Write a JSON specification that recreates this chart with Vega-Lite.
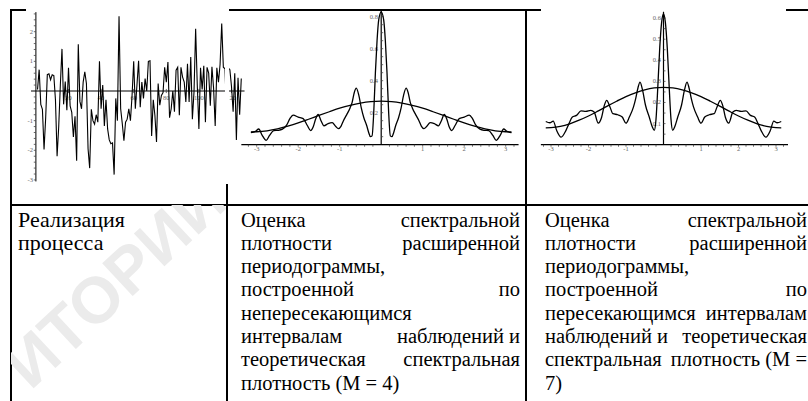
{
 "$schema": "https://vega.github.io/schema/vega-lite/v6.json",
 "padding": {"left": 10, "top": 8, "right": 0, "bottom": 0},
 "background": "white",
 "bounds": "flush",
 "spacing": 0,
 "columns": 3,
 "config": {"view": {"stroke": "#000", "strokeWidth": 2}},
 "datasets": {
  "c1": [{"x":1,"y":0.05},{"x":2,"y":0.72},{"x":3,"y":-0.45},{"x":4,"y":-0.62},{"x":5,"y":-1.97},{"x":6,"y":-0.9},{"x":7,"y":0.55},{"x":8,"y":0.58},{"x":9,"y":0.38},{"x":10,"y":0.55},{"x":11,"y":0.52},{"x":12,"y":-0.3},{"x":13,"y":-2.2},{"x":14,"y":-1.2},{"x":15,"y":0.2},{"x":16,"y":1.42},{"x":17,"y":-0.45},{"x":18,"y":0.32},{"x":19,"y":-0.65},{"x":20,"y":0.78},{"x":21,"y":-0.5},{"x":22,"y":-0.72},{"x":23,"y":-1.55},{"x":24,"y":-0.85},{"x":25,"y":-2.35},{"x":26,"y":1.58},{"x":27,"y":-0.35},{"x":28,"y":-0.6},{"x":29,"y":0.3},{"x":30,"y":0.65},{"x":31,"y":0.25},{"x":32,"y":-1.95},{"x":33,"y":-2.6},{"x":34,"y":-0.62},{"x":35,"y":-1.0},{"x":36,"y":-1.12},{"x":37,"y":-0.8},{"x":38,"y":-1.05},{"x":39,"y":1.0},{"x":40,"y":-0.6},{"x":41,"y":0.2},{"x":42,"y":-1.18},{"x":43,"y":-0.3},{"x":44,"y":-1.28},{"x":45,"y":-1.65},{"x":46,"y":-1.78},{"x":47,"y":-1.75},{"x":48,"y":-2.82},{"x":49,"y":-0.25},{"x":50,"y":-1.0},{"x":51,"y":2.52},{"x":52,"y":-0.6},{"x":53,"y":-1.1},{"x":54,"y":-1.68},{"x":55,"y":-1.05},{"x":56,"y":-0.95},{"x":57,"y":-0.6},{"x":58,"y":-1.0},{"x":59,"y":-0.15},{"x":60,"y":1.0},{"x":61,"y":-0.6},{"x":62,"y":0.2},{"x":63,"y":1.02},{"x":64,"y":-0.55},{"x":65,"y":0.3},{"x":66,"y":-0.25},{"x":67,"y":0.42},{"x":68,"y":0.0},{"x":69,"y":1.0},{"x":70,"y":1.02},{"x":71,"y":-1.52},{"x":72,"y":-0.3},{"x":73,"y":-0.82},{"x":74,"y":-1.72},{"x":75,"y":0.25},{"x":76,"y":-0.48},{"x":77,"y":-0.15},{"x":78,"y":-0.05},{"x":79,"y":0.8},{"x":80,"y":0.3},{"x":81,"y":0.98},{"x":82,"y":-0.9},{"x":83,"y":-0.6},{"x":84,"y":0.0},{"x":85,"y":-0.7},{"x":86,"y":0.7},{"x":87,"y":0.8},{"x":88,"y":-0.82},{"x":89,"y":0.8},{"x":90,"y":0.47},{"x":91,"y":0.3},{"x":92,"y":-0.37},{"x":93,"y":0.92},{"x":94,"y":-0.37},{"x":95,"y":1.15},{"x":96,"y":-0.95},{"x":97,"y":-0.03},{"x":98,"y":2.1},{"x":99,"y":0.2},{"x":100,"y":-1.28},{"x":101,"y":0.78},{"x":102,"y":0.05},{"x":103,"y":0.85},{"x":104,"y":-1.05},{"x":105,"y":0.8},{"x":106,"y":0.6},{"x":107,"y":-0.5},{"x":108,"y":0.82},{"x":109,"y":0.1},{"x":110,"y":-1.18},{"x":111,"y":0.78},{"x":112,"y":0.3},{"x":113,"y":0.9},{"x":114,"y":2.28},{"x":115,"y":0.8},{"x":116,"y":0.75},{"x":117,"y":-0.78},{"x":118,"y":0.78},{"x":119,"y":0.72},{"x":120,"y":0.15},{"x":121,"y":-0.7},{"x":122,"y":0.6},{"x":123,"y":-1.65},{"x":124,"y":0.45},{"x":125,"y":-0.8},{"x":126,"y":0.42}],
  "c1yt": [{"y":-3},{"y":-2.8},{"y":-2.6},{"y":-2.4},{"y":-2.2},{"y":-2},{"y":-1.8},{"y":-1.6},{"y":-1.4},{"y":-1.2},{"y":-1},{"y":-0.8},{"y":-0.6},{"y":-0.4},{"y":-0.2},{"y":0.2},{"y":0.4},{"y":0.6},{"y":0.8},{"y":1},{"y":1.2},{"y":1.4},{"y":1.6},{"y":1.8},{"y":2},{"y":2.2},{"y":2.4},{"y":2.6}],
  "c1yl": [{"y":2,"t":"2"},{"y":1,"t":"1"},{"y":-1,"t":"-1"},{"y":-2,"t":"-2"},{"y":-3,"t":"-3"}],
  "c1xl": [{"x":20,"t":"20"},{"x":40,"t":"40"},{"x":60,"t":"60"},{"x":80,"t":"80"},{"x":100,"t":"100"},{"x":120,"t":"120"}],
  "xt23": [{"x":-3.2},{"x":-3},{"x":-2.8},{"x":-2.6},{"x":-2.4},{"x":-2.2},{"x":-2},{"x":-1.8},{"x":-1.6},{"x":-1.4},{"x":-1.2},{"x":-1},{"x":-0.8},{"x":-0.6},{"x":-0.4},{"x":-0.2},{"x":0.2},{"x":0.4},{"x":0.6},{"x":0.8},{"x":1},{"x":1.2},{"x":1.4},{"x":1.6},{"x":1.8},{"x":2},{"x":2.2},{"x":2.4},{"x":2.6},{"x":2.8},{"x":3},{"x":3.2}],
  "xl23": [{"x":-3,"t":"-3"},{"x":-2,"t":"-2"},{"x":-1,"t":"-1"},{"x":1,"t":"1"},{"x":2,"t":"2"},{"x":3,"t":"3"}],
  "c2yt": [{"y":0.05},{"y":0.1},{"y":0.15},{"y":0.2},{"y":0.25},{"y":0.3},{"y":0.35},{"y":0.4},{"y":0.45},{"y":0.5},{"y":0.55},{"y":0.6},{"y":0.65},{"y":0.7},{"y":0.75},{"y":0.8}],
  "c2yl": [{"y":0.2,"t":"0.2"},{"y":0.4,"t":"0.4"},{"y":0.6,"t":"0.6"},{"y":0.8,"t":"0.8"}],
  "c3yt": [{"y":0.05},{"y":0.1},{"y":0.15},{"y":0.2},{"y":0.25},{"y":0.3},{"y":0.35},{"y":0.4},{"y":0.45},{"y":0.5},{"y":0.55},{"y":0.6}],
  "c3yl": [{"y":0.1,"t":"0.1"},{"y":0.2,"t":"0.2"},{"y":0.3,"t":"0.3"},{"y":0.4,"t":"0.4"},{"y":0.5,"t":"0.5"},{"y":0.6,"t":"0.6"}],
  "th": [{"x":-3.14,"y":0.08},{"x":-3,"y":0.081},{"x":-2.75,"y":0.087},{"x":-2.5,"y":0.099},{"x":-2.25,"y":0.116},{"x":-2,"y":0.136},{"x":-1.75,"y":0.159},{"x":-1.5,"y":0.183},{"x":-1.25,"y":0.206},{"x":-1,"y":0.228},{"x":-0.75,"y":0.246},{"x":-0.5,"y":0.26},{"x":-0.25,"y":0.269},{"x":0,"y":0.272},{"x":0.25,"y":0.269},{"x":0.5,"y":0.26},{"x":0.75,"y":0.246},{"x":1,"y":0.228},{"x":1.25,"y":0.206},{"x":1.5,"y":0.183},{"x":1.75,"y":0.159},{"x":2,"y":0.136},{"x":2.25,"y":0.116},{"x":2.5,"y":0.099},{"x":2.75,"y":0.087},{"x":3,"y":0.081},{"x":3.14,"y":0.08}],
  "c2e": [{"x":-3.14,"y":0.075},{"x":-3.03,"y":0.083},{"x":-2.95,"y":0.098},{"x":-2.87,"y":0.06},{"x":-2.77,"y":0.027},{"x":-2.69,"y":0.058},{"x":-2.59,"y":0.088},{"x":-2.48,"y":0.09},{"x":-2.38,"y":0.097},{"x":-2.28,"y":0.122},{"x":-2.2,"y":0.163},{"x":-2.12,"y":0.185},{"x":-2.0,"y":0.172},{"x":-1.88,"y":0.163},{"x":-1.78,"y":0.12},{"x":-1.7,"y":0.088},{"x":-1.64,"y":0.11},{"x":-1.58,"y":0.16},{"x":-1.52,"y":0.19},{"x":-1.45,"y":0.15},{"x":-1.38,"y":0.118},{"x":-1.28,"y":0.132},{"x":-1.18,"y":0.138},{"x":-1.1,"y":0.115},{"x":-1.03,"y":0.1},{"x":-0.97,"y":0.115},{"x":-0.91,"y":0.15},{"x":-0.83,"y":0.188},{"x":-0.75,"y":0.23},{"x":-0.7,"y":0.265},{"x":-0.65,"y":0.325},{"x":-0.6,"y":0.354},{"x":-0.54,"y":0.31},{"x":-0.48,"y":0.23},{"x":-0.42,"y":0.17},{"x":-0.35,"y":0.12},{"x":-0.3,"y":0.075},{"x":-0.26,"y":0.05},{"x":-0.22,"y":0.055},{"x":-0.18,"y":0.2},{"x":-0.14,"y":0.45},{"x":-0.1,"y":0.65},{"x":-0.06,"y":0.78},{"x":0,"y":0.83},{"x":0.06,"y":0.78},{"x":0.1,"y":0.65},{"x":0.14,"y":0.45},{"x":0.18,"y":0.2},{"x":0.22,"y":0.055},{"x":0.26,"y":0.05},{"x":0.3,"y":0.075},{"x":0.35,"y":0.12},{"x":0.42,"y":0.17},{"x":0.48,"y":0.23},{"x":0.54,"y":0.31},{"x":0.6,"y":0.354},{"x":0.65,"y":0.325},{"x":0.7,"y":0.265},{"x":0.75,"y":0.23},{"x":0.83,"y":0.188},{"x":0.91,"y":0.15},{"x":0.97,"y":0.115},{"x":1.03,"y":0.1},{"x":1.1,"y":0.115},{"x":1.18,"y":0.138},{"x":1.28,"y":0.132},{"x":1.38,"y":0.118},{"x":1.45,"y":0.15},{"x":1.52,"y":0.19},{"x":1.58,"y":0.16},{"x":1.64,"y":0.11},{"x":1.7,"y":0.088},{"x":1.78,"y":0.12},{"x":1.88,"y":0.163},{"x":2.0,"y":0.172},{"x":2.12,"y":0.185},{"x":2.2,"y":0.163},{"x":2.28,"y":0.122},{"x":2.38,"y":0.097},{"x":2.48,"y":0.09},{"x":2.59,"y":0.088},{"x":2.69,"y":0.058},{"x":2.77,"y":0.027},{"x":2.87,"y":0.06},{"x":2.95,"y":0.098},{"x":3.03,"y":0.083},{"x":3.14,"y":0.075}],
  "c3e": [{"x":-3.14,"y":0.11},{"x":-3.03,"y":0.104},{"x":-2.94,"y":0.112},{"x":-2.85,"y":0.068},{"x":-2.73,"y":0.036},{"x":-2.6,"y":0.068},{"x":-2.52,"y":0.1},{"x":-2.43,"y":0.131},{"x":-2.32,"y":0.139},{"x":-2.2,"y":0.16},{"x":-2.07,"y":0.158},{"x":-1.94,"y":0.163},{"x":-1.85,"y":0.155},{"x":-1.74,"y":0.102},{"x":-1.65,"y":0.13},{"x":-1.58,"y":0.185},{"x":-1.515,"y":0.21},{"x":-1.43,"y":0.18},{"x":-1.35,"y":0.147},{"x":-1.22,"y":0.142},{"x":-1.1,"y":0.131},{"x":-1.0,"y":0.102},{"x":-0.91,"y":0.131},{"x":-0.8,"y":0.179},{"x":-0.74,"y":0.22},{"x":-0.68,"y":0.27},{"x":-0.627,"y":0.297},{"x":-0.56,"y":0.26},{"x":-0.48,"y":0.187},{"x":-0.38,"y":0.131},{"x":-0.3,"y":0.085},{"x":-0.245,"y":0.068},{"x":-0.2,"y":0.12},{"x":-0.15,"y":0.28},{"x":-0.1,"y":0.46},{"x":-0.05,"y":0.58},{"x":0,"y":0.62},{"x":0.05,"y":0.58},{"x":0.1,"y":0.46},{"x":0.15,"y":0.28},{"x":0.2,"y":0.12},{"x":0.245,"y":0.068},{"x":0.3,"y":0.085},{"x":0.38,"y":0.131},{"x":0.48,"y":0.187},{"x":0.56,"y":0.26},{"x":0.627,"y":0.297},{"x":0.68,"y":0.27},{"x":0.74,"y":0.22},{"x":0.8,"y":0.179},{"x":0.91,"y":0.131},{"x":1.0,"y":0.102},{"x":1.1,"y":0.131},{"x":1.22,"y":0.142},{"x":1.35,"y":0.147},{"x":1.43,"y":0.18},{"x":1.515,"y":0.21},{"x":1.58,"y":0.185},{"x":1.65,"y":0.13},{"x":1.74,"y":0.102},{"x":1.85,"y":0.155},{"x":1.94,"y":0.163},{"x":2.07,"y":0.158},{"x":2.2,"y":0.16},{"x":2.32,"y":0.139},{"x":2.43,"y":0.131},{"x":2.52,"y":0.1},{"x":2.6,"y":0.068},{"x":2.73,"y":0.036},{"x":2.85,"y":0.068},{"x":2.94,"y":0.112},{"x":3.03,"y":0.104},{"x":3.14,"y":0.11}],
  "txt1": [{"line":1,"left":"Реализация"},{"line":2,"left":"процесса"}],
  "txt2": [{"line":1,"left":" Оценка","right":"спектральной"},{"line":2,"left":"плотности","right":"расширенной"},{"line":3,"left":"периодограммы,","right":""},{"line":4,"left":"построенной","right":"по"},{"line":5,"left":"непересекающимся","right":""},{"line":6,"left":"интервалам","right":"наблюдений  и"},{"line":7,"left":"теоретическая","right":"спектральная"},{"line":8,"left":"плотность (M = 4)","right":""}],
  "txt3": [{"line":1,"left":"Оценка","right":"спектральной"},{"line":2,"left":"плотности","right":"расширенной"},{"line":3,"left":"периодограммы,","right":""},{"line":4,"left":"построенной","right":"по"},{"line":5,"left":"пересекающимся","right":"интервалам"},{"line":6,"left":"наблюдений и","right":"теоретическая"},{"line":7,"left":"спектральная","right":"плотность (M ="},{"line":8,"left":"7)","right":""}]
 },
 "concat": [
    {
     "width": 216, "height": 195,
     "layer": [
      {"data": {"values": [{}]}, "mark": {"type": "rect", "color": "#fff"}, "encoding": {"x": {"datum": -6.07, "type": "quantitative", "scale": {"domain": [-15.276, 117.24], "nice": false, "zero": false}, "axis": null}, "x2": {"datum": 118.5}, "y": {"datum": 2.7656, "type": "quantitative", "scale": {"domain": [-3.845, 2.732], "nice": false, "zero": false}, "axis": null}, "y2": {"datum": -3.137}}},
      {"data": {"values": [{}]}, "mark": {"type": "rule", "color": "#000", "strokeWidth": 1.2}, "encoding": {"x": {"datum": -3, "type": "quantitative", "scale": {"domain": [-15.276, 117.24], "nice": false, "zero": false}, "axis": null}, "x2": {"datum": 128}, "y": {"datum": 0, "type": "quantitative", "scale": {"domain": [-3.845, 2.732], "nice": false, "zero": false}, "axis": null}}},
      {"data": {"values": [{}]}, "mark": {"type": "rule", "color": "#000", "strokeWidth": 1}, "encoding": {"x": {"datum": 0, "type": "quantitative", "scale": {"domain": [-15.276, 117.24], "nice": false, "zero": false}, "axis": null}, "y": {"datum": -3.05, "type": "quantitative", "scale": {"domain": [-3.845, 2.732], "nice": false, "zero": false}, "axis": null}, "y2": {"datum": 2.66}}},
      {"data": {"name": "c1yt"}, "mark": {"type": "rule", "color": "#444", "strokeWidth": 0.8}, "encoding": {"x": {"datum": 0, "type": "quantitative", "scale": {"domain": [-15.276, 117.24], "nice": false, "zero": false}, "axis": null}, "x2": {"datum": -1.3}, "y": {"field": "y", "type": "quantitative", "scale": {"domain": [-3.845, 2.732], "nice": false, "zero": false}, "axis": null}}},
      {"data": {"name": "c1xl"}, "mark": {"type": "rule", "color": "#444", "strokeWidth": 0.8}, "encoding": {"x": {"field": "x", "type": "quantitative", "scale": {"domain": [-15.276, 117.24], "nice": false, "zero": false}, "axis": null}, "y": {"datum": 0.07, "type": "quantitative", "scale": {"domain": [-3.845, 2.732], "nice": false, "zero": false}, "axis": null}, "y2": {"datum": -0.07}}},
      {"data": {"name": "c1yl"}, "mark": {"type": "text", "font": "Liberation Serif", "fontSize": 6.5, "color": "#666", "align": "right", "baseline": "middle"}, "encoding": {"x": {"datum": -1.8, "type": "quantitative", "scale": {"domain": [-15.276, 117.24], "nice": false, "zero": false}, "axis": null}, "y": {"field": "y", "type": "quantitative", "scale": {"domain": [-3.845, 2.732], "nice": false, "zero": false}, "axis": null}, "text": {"field": "t"}}},
      {"data": {"name": "c1xl"}, "mark": {"type": "text", "font": "Liberation Serif", "fontSize": 6.5, "color": "#666", "align": "center", "baseline": "middle"}, "encoding": {"x": {"field": "x", "type": "quantitative", "scale": {"domain": [-15.276, 117.24], "nice": false, "zero": false}, "axis": null}, "y": {"datum": -0.22, "type": "quantitative", "scale": {"domain": [-3.845, 2.732], "nice": false, "zero": false}, "axis": null}, "text": {"field": "t"}}},
      {"data": {"name": "c1"}, "mark": {"type": "line", "color": "#000", "strokeWidth": 1.1}, "encoding": {"x": {"field": "x", "type": "quantitative", "scale": {"domain": [-15.276, 117.24], "nice": false, "zero": false}, "axis": null}, "y": {"field": "y", "type": "quantitative", "scale": {"domain": [-3.845, 2.732], "nice": false, "zero": false}, "axis": null}}}
     ]
    },
    {
     "width": 299, "height": 195,
     "layer": [
      {"data": {"values": [{}]}, "mark": {"type": "rect", "color": "#fff"}, "encoding": {"x": {"datum": -3.764, "type": "quantitative", "scale": {"domain": [-3.7157, 3.4892], "nice": false, "zero": false}, "axis": null}, "x2": {"datum": -3.667}, "y": {"datum": 0.8481, "type": "quantitative", "scale": {"domain": [-0.3769, 0.8419], "nice": false, "zero": false}, "axis": null}, "y2": {"datum": -0.2456}}},
      {"data": {"values": [{}]}, "mark": {"type": "rule", "color": "#000", "strokeWidth": 1.2}, "encoding": {"x": {"datum": -3.37, "type": "quantitative", "scale": {"domain": [-3.7157, 3.4892], "nice": false, "zero": false}, "axis": null}, "x2": {"datum": 3.31}, "y": {"datum": 0, "type": "quantitative", "scale": {"domain": [-0.3769, 0.8419], "nice": false, "zero": false}, "axis": null}}},
      {"data": {"values": [{}]}, "mark": {"type": "rule", "color": "#000", "strokeWidth": 1.2}, "encoding": {"x": {"datum": 0, "type": "quantitative", "scale": {"domain": [-3.7157, 3.4892], "nice": false, "zero": false}, "axis": null}, "y": {"datum": 0, "type": "quantitative", "scale": {"domain": [-0.3769, 0.8419], "nice": false, "zero": false}, "axis": null}, "y2": {"datum": 0.84}}},
      {"data": {"name": "xt23"}, "mark": {"type": "rule", "color": "#444", "strokeWidth": 0.8}, "encoding": {"x": {"field": "x", "type": "quantitative", "scale": {"domain": [-3.7157, 3.4892], "nice": false, "zero": false}, "axis": null}, "y": {"datum": 0, "type": "quantitative", "scale": {"domain": [-0.3769, 0.8419], "nice": false, "zero": false}, "axis": null}, "y2": {"datum": -0.0125}}},
      {"data": {"name": "c2yt"}, "mark": {"type": "rule", "color": "#444", "strokeWidth": 0.8}, "encoding": {"x": {"datum": 0, "type": "quantitative", "scale": {"domain": [-3.7157, 3.4892], "nice": false, "zero": false}, "axis": null}, "x2": {"datum": 0.048}, "y": {"field": "y", "type": "quantitative", "scale": {"domain": [-0.3769, 0.8419], "nice": false, "zero": false}, "axis": null}}},
      {"data": {"name": "xl23"}, "mark": {"type": "text", "font": "Liberation Serif", "fontSize": 6.5, "color": "#666", "align": "center", "baseline": "middle"}, "encoding": {"x": {"field": "x", "type": "quantitative", "scale": {"domain": [-3.7157, 3.4892], "nice": false, "zero": false}, "axis": null}, "y": {"datum": -0.03, "type": "quantitative", "scale": {"domain": [-0.3769, 0.8419], "nice": false, "zero": false}, "axis": null}, "text": {"field": "t"}}},
      {"data": {"name": "c2yl"}, "mark": {"type": "text", "font": "Liberation Serif", "fontSize": 6.5, "color": "#666", "align": "right", "baseline": "middle"}, "encoding": {"x": {"datum": -0.08, "type": "quantitative", "scale": {"domain": [-3.7157, 3.4892], "nice": false, "zero": false}, "axis": null}, "y": {"field": "y", "type": "quantitative", "scale": {"domain": [-0.3769, 0.8419], "nice": false, "zero": false}, "axis": null}, "text": {"field": "t"}}},
      {"data": {"name": "th"}, "mark": {"type": "line", "color": "#000", "strokeWidth": 1.3, "interpolate": "monotone"}, "encoding": {"x": {"field": "x", "type": "quantitative", "scale": {"domain": [-3.7157, 3.4892], "nice": false, "zero": false}, "axis": null}, "y": {"field": "y", "type": "quantitative", "scale": {"domain": [-0.3769, 0.8419], "nice": false, "zero": false}, "axis": null}}},
      {"data": {"name": "c2e"}, "mark": {"type": "line", "color": "#000", "strokeWidth": 1.3, "interpolate": "monotone"}, "encoding": {"x": {"field": "x", "type": "quantitative", "scale": {"domain": [-3.7157, 3.4892], "nice": false, "zero": false}, "axis": null}, "y": {"field": "y", "type": "quantitative", "scale": {"domain": [-0.3769, 0.8419], "nice": false, "zero": false}, "axis": null}}}
     ]
    },
    {
     "width": 283, "height": 195,
     "layer": [
      {"data": {"values": [{}]}, "mark": {"type": "rect", "color": "#fff"}, "encoding": {"x": {"datum": -3.267, "type": "quantitative", "scale": {"domain": [-3.6667, 3.88], "nice": false, "zero": false}, "axis": null}, "x2": {"datum": 3.267}, "y": {"datum": 0.6431, "type": "quantitative", "scale": {"domain": [-0.2858, 0.6384], "nice": false, "zero": false}, "axis": null}, "y2": {"datum": 0.6289}}},
      {"data": {"values": [{}]}, "mark": {"type": "rule", "color": "#000", "strokeWidth": 1.2}, "encoding": {"x": {"datum": -3.27, "type": "quantitative", "scale": {"domain": [-3.6667, 3.88], "nice": false, "zero": false}, "axis": null}, "x2": {"datum": 3.32}, "y": {"datum": 0, "type": "quantitative", "scale": {"domain": [-0.2858, 0.6384], "nice": false, "zero": false}, "axis": null}}},
      {"data": {"values": [{}]}, "mark": {"type": "rule", "color": "#000", "strokeWidth": 1.2}, "encoding": {"x": {"datum": 0, "type": "quantitative", "scale": {"domain": [-3.6667, 3.88], "nice": false, "zero": false}, "axis": null}, "y": {"datum": 0, "type": "quantitative", "scale": {"domain": [-0.2858, 0.6384], "nice": false, "zero": false}, "axis": null}, "y2": {"datum": 0.63}}},
      {"data": {"name": "xt23"}, "mark": {"type": "rule", "color": "#444", "strokeWidth": 0.8}, "encoding": {"x": {"field": "x", "type": "quantitative", "scale": {"domain": [-3.6667, 3.88], "nice": false, "zero": false}, "axis": null}, "y": {"datum": 0, "type": "quantitative", "scale": {"domain": [-0.2858, 0.6384], "nice": false, "zero": false}, "axis": null}, "y2": {"datum": -0.0095}}},
      {"data": {"name": "c3yt"}, "mark": {"type": "rule", "color": "#444", "strokeWidth": 0.8}, "encoding": {"x": {"datum": 0, "type": "quantitative", "scale": {"domain": [-3.6667, 3.88], "nice": false, "zero": false}, "axis": null}, "x2": {"datum": 0.053}, "y": {"field": "y", "type": "quantitative", "scale": {"domain": [-0.2858, 0.6384], "nice": false, "zero": false}, "axis": null}}},
      {"data": {"name": "xl23"}, "mark": {"type": "text", "font": "Liberation Serif", "fontSize": 6.5, "color": "#666", "align": "center", "baseline": "middle"}, "encoding": {"x": {"field": "x", "type": "quantitative", "scale": {"domain": [-3.6667, 3.88], "nice": false, "zero": false}, "axis": null}, "y": {"datum": -0.022, "type": "quantitative", "scale": {"domain": [-0.2858, 0.6384], "nice": false, "zero": false}, "axis": null}, "text": {"field": "t"}}},
      {"data": {"name": "c3yl"}, "mark": {"type": "text", "font": "Liberation Serif", "fontSize": 6.5, "color": "#666", "align": "right", "baseline": "middle"}, "encoding": {"x": {"datum": -0.07, "type": "quantitative", "scale": {"domain": [-3.6667, 3.88], "nice": false, "zero": false}, "axis": null}, "y": {"field": "y", "type": "quantitative", "scale": {"domain": [-0.2858, 0.6384], "nice": false, "zero": false}, "axis": null}, "text": {"field": "t"}}},
      {"data": {"name": "th"}, "mark": {"type": "line", "color": "#000", "strokeWidth": 1.3, "interpolate": "monotone"}, "encoding": {"x": {"field": "x", "type": "quantitative", "scale": {"domain": [-3.6667, 3.88], "nice": false, "zero": false}, "axis": null}, "y": {"field": "y", "type": "quantitative", "scale": {"domain": [-0.2858, 0.6384], "nice": false, "zero": false}, "axis": null}}},
      {"data": {"name": "c3e"}, "mark": {"type": "line", "color": "#000", "strokeWidth": 1.3, "interpolate": "monotone"}, "encoding": {"x": {"field": "x", "type": "quantitative", "scale": {"domain": [-3.6667, 3.88], "nice": false, "zero": false}, "axis": null}, "y": {"field": "y", "type": "quantitative", "scale": {"domain": [-0.2858, 0.6384], "nice": false, "zero": false}, "axis": null}}}
     ]
    },
    {
     "width": 216, "height": 198,
     "layer": [
      {"data": {"values": [{"w": "ИТОРИЙ"}]}, "mark": {"type": "text", "font": "Liberation Sans", "fontWeight": "bold", "fontSize": 65, "color": "#ebebeb", "align": "right", "baseline": "middle", "angle": -43, "clip": true}, "encoding": {"x": {"datum": 0.975, "type": "quantitative", "scale": {"domain": [0, 1], "range": [7, 210]}, "axis": null}, "y": {"datum": -0.524, "type": "quantitative", "scale": {"domain": [1, 8], "range": [21.5, 184.6]}, "axis": null}, "text": {"field": "w"}}},
      {"data": {"name": "txt1"}, "mark": {"type": "text", "align": "left", "baseline": "alphabetic", "font": "Liberation Serif, serif", "fontSize": 22, "color": "#000"}, "encoding": {"x": {"datum": 0, "type": "quantitative", "scale": {"domain": [0, 1], "range": [7, 210]}, "axis": null}, "y": {"field": "line", "type": "quantitative", "scale": {"domain": [1, 8], "range": [21.5, 184.6]}, "axis": null}, "text": {"field": "left"}}}
     ]
    },
    {
     "width": 299, "height": 198,
     "data": {"name": "txt2"},
     "layer": [
      {"mark": {"type": "text", "align": "left", "baseline": "alphabetic", "font": "Liberation Serif, serif", "fontSize": 20.5, "color": "#000"}, "encoding": {"x": {"datum": 0, "type": "quantitative", "scale": {"domain": [0, 1], "range": [14, 293]}, "axis": null}, "y": {"field": "line", "type": "quantitative", "scale": {"domain": [1, 8], "range": [21.5, 184.6]}, "axis": null}, "text": {"field": "left"}}},
      {"mark": {"type": "text", "align": "right", "baseline": "alphabetic", "font": "Liberation Serif, serif", "fontSize": 20.5, "color": "#000"}, "encoding": {"x": {"datum": 1, "type": "quantitative", "scale": {"domain": [0, 1], "range": [14, 293]}, "axis": null}, "y": {"field": "line", "type": "quantitative", "scale": {"domain": [1, 8], "range": [21.5, 184.6]}, "axis": null}, "text": {"field": "right"}}}
     ]
    },
    {
     "width": 283, "height": 198,
     "data": {"name": "txt3"},
     "layer": [
      {"mark": {"type": "text", "align": "left", "baseline": "alphabetic", "font": "Liberation Serif, serif", "fontSize": 20.5, "color": "#000"}, "encoding": {"x": {"datum": 0, "type": "quantitative", "scale": {"domain": [0, 1], "range": [19, 281]}, "axis": null}, "y": {"field": "line", "type": "quantitative", "scale": {"domain": [1, 8], "range": [21.5, 184.6]}, "axis": null}, "text": {"field": "left"}}},
      {"mark": {"type": "text", "align": "right", "baseline": "alphabetic", "font": "Liberation Serif, serif", "fontSize": 20.5, "color": "#000"}, "encoding": {"x": {"datum": 1, "type": "quantitative", "scale": {"domain": [0, 1], "range": [19, 281]}, "axis": null}, "y": {"field": "line", "type": "quantitative", "scale": {"domain": [1, 8], "range": [21.5, 184.6]}, "axis": null}, "text": {"field": "right"}}}
     ]
    }
 ]
}
